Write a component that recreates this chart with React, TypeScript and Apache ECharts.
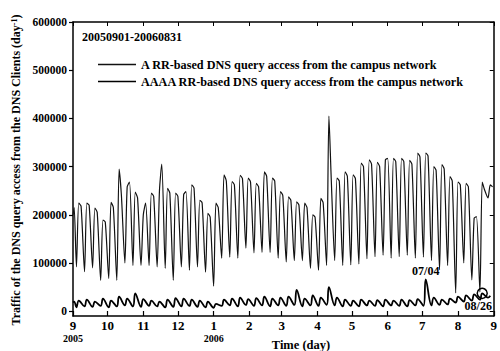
import React, { useEffect, useRef } from 'react';
import * as echarts from 'echarts';

const SERIF = '"Liberation Serif", "Times New Roman", serif';

// x axis: days since 2005-09-01
const monthTickDays = [0, 30, 61, 91, 122, 153, 181, 212, 242, 273, 303, 334, 365];
const monthTickLabels = ['9', '10', '11', '12', '1', '2', '3', '4', '5', '6', '7', '8', '9'];
const yearTickDays = [0, 122];
const yearTickLabels = ['2005', '2006'];
const yTickValues = [0, 100000, 200000, 300000, 400000, 500000, 600000];

const seriesNames = [
  'A RR-based DNS query access from the campus network',
  'AAAA RR-based DNS query access from the campus network',
];

// A RR series: first two days, then per week (k = 0..51): Sunday trough, Tuesday and Thursday levels
const aStart = [200000, 215000];
const aTrough = [
  92000, 82000, 90000, 64000, 68000, 64000, 100000, 95000, 95000, 95000,
  92000, 89000, 64000, 92000, 85000, 92000, 81000, 52000, 110000, 112000,
  110000, 131000, 121000, 122000, 122000, 110000, 102000, 105000, 105000, 89000,
  85000, 95000, 105000, 95000, 96000, 98000, 109000, 113000, 116000, 110000,
  113000, 116000, 110000, 112000, 105000, 86000, 95000, 38000, 100000, 65000,
  40000, 235000,
];
const aPeakTue = [
  224000, 224000, 214000, 189000, 226000, 295000, 258000, 247000, 200000, 245000,
  250000, 255000, 245000, 242000, 262000, 230000, 203000, 224000, 283000, 269000,
  282000, 276000, 265000, 289000, 276000, 248000, 237000, 227000, 224000, 200000,
  234000, 405000, 276000, 289000, 283000, 307000, 314000, 309000, 314000, 317000,
  317000, 313000, 328000, 328000, 300000, 304000, 279000, 268000, 265000, 193000,
  268000, 262000,
];
const aPeakThu = [
  218000, 220000, 205000, 185000, 215000, 240000, 268000, 235000, 224000, 238000,
  305000, 245000, 238000, 248000, 255000, 225000, 195000, 215000, 270000, 262000,
  275000, 268000, 258000, 280000, 270000, 240000, 230000, 220000, 215000, 195000,
  225000, 276000, 270000, 280000, 275000, 300000, 305000, 300000, 317000, 310000,
  310000, 305000, 320000, 322000, 292000, 295000, 270000, 262000, 258000, 196000,
  252000, 258000,
];

// AAAA RR series: first two days, then per week: Sunday trough, Tuesday peak
const aaaaStart = [18000, 20000];
const aaaaTrough = [
  8000, 10000, 9000, 11000, 8000, 10000, 12000, 10000, 9000, 11000,
  10000, 8000, 9000, 10000, 11000, 9000, 8000, 7000, 11000, 12000,
  10000, 13000, 11000, 12000, 10000, 12000, 11000, 13000, 10000, 12000,
  11000, 13000, 12000, 10000, 11000, 10000, 12000, 11000, 10000, 12000,
  11000, 10000, 12000, 11000, 12000, 13000, 14000, 18000, 20000, 22000,
  24000, 28000,
];
const aaaaPeak = [
  22000, 24000, 20000, 26000, 22000, 30000, 26000, 37000, 25000, 22000,
  20000, 24000, 27000, 26000, 24000, 22000, 20000, 15000, 24000, 26000,
  28000, 25000, 27000, 30000, 26000, 28000, 30000, 44000, 26000, 33000,
  28000, 50000, 28000, 24000, 22000, 24000, 22000, 23000, 24000, 22000,
  24000, 23000, 25000, 66000, 28000, 24000, 26000, 30000, 33000, 35000,
  37000, 32000,
];

const rangeLabel = '20050901-20060831';
const annotation1 = { day: 306, value: 66000, text: '07/04' };
const annotation2 = { day: 355, value: 37000, text: '08/26' };

function buildA(): number[][] {
  const pts: number[][] = [[0, aStart[0]], [1, aStart[1]]];
  for (let k = 0; k < aTrough.length; k++) {
    pts.push([3 + 7 * k, aTrough[k]]);
    pts.push([5 + 7 * k, aPeakTue[k]]);
    pts.push([7 + 7 * k, aPeakThu[k]]);
  }
  return pts;
}

function buildAAAA(): number[][] {
  const pts: number[][] = [[0, aaaaStart[0]], [1, aaaaStart[1]]];
  for (let k = 0; k < aaaaTrough.length; k++) {
    pts.push([3 + 7 * k, aaaaTrough[k]]);
    pts.push([5 + 7 * k, aaaaPeak[k]]);
  }
  return pts;
}

const boldText = { fontFamily: SERIF, fontWeight: 'bold' as const, color: '#000' };

export default function App() {
  const ref = useRef<HTMLDivElement>(null);
  useEffect(() => {
    const chart = echarts.init(ref.current!, null, { renderer: 'svg' });
    const axisLine = { show: true, onZero: false, lineStyle: { color: '#000', width: 1.5 } };
    const option: any = {
      animation: false,
      backgroundColor: '#fff',
      grid: { left: 73, right: 6, top: 22, bottom: 35, containLabel: false },
      legend: {
        orient: 'vertical',
        left: 98,
        top: 57,
        padding: 0,
        itemGap: 2,
        itemWidth: 38,
        itemHeight: 1.5,
        icon: 'rect',
        selectedMode: false,
        data: seriesNames,
        textStyle: { ...boldText, fontSize: 12.2, lineHeight: 15 },
      },
      xAxis: [
        {
          type: 'value', min: 0, max: 365, position: 'bottom',
          axisLine,
          axisTick: { show: true, inside: true, length: 5, customValues: monthTickDays, lineStyle: { color: '#000', width: 1.2 } },
          axisLabel: {
            customValues: monthTickDays, margin: 3, showMinLabel: true, showMaxLabel: true,
            formatter: (v: number) => {
              const i = monthTickDays.indexOf(v);
              const yi = yearTickDays.indexOf(v);
              const m = i >= 0 ? monthTickLabels[i] : '';
              return yi >= 0 ? `{m|${m}}\n{y|${yearTickLabels[yi]}}` : `{m|${m}}`;
            },
            rich: {
              m: { ...boldText, fontSize: 13, lineHeight: 13 },
              y: { ...boldText, fontSize: 10, lineHeight: 13 },
            },
          },
          splitLine: { show: false },
        },
        {
          type: 'value', min: 0, max: 365, position: 'top',
          axisLine,
          axisTick: { show: true, inside: true, length: 4, customValues: monthTickDays, lineStyle: { color: '#000' } },
          axisLabel: { show: false },
          splitLine: { show: false },
        },
      ],
      yAxis: [
        {
          type: 'value', min: -10000, max: 600000, position: 'left',
          axisLine,
          axisTick: { show: true, inside: false, length: 4, customValues: yTickValues, lineStyle: { color: '#000', width: 1.2 } },
          axisLabel: {
            customValues: yTickValues, margin: 6, ...boldText, fontSize: 11.5,
            formatter: (v: number) => String(v),
          },
          splitLine: { show: false },
        },
        {
          type: 'value', min: -10000, max: 600000, position: 'right',
          axisLine,
          axisTick: { show: true, inside: true, length: 4, customValues: yTickValues, lineStyle: { color: '#000' } },
          axisLabel: { show: false },
          splitLine: { show: false },
        },
      ],
      series: [
        {
          name: seriesNames[0], type: 'line', xAxisIndex: 0, yAxisIndex: 0,
          data: buildA(), symbol: 'none', smooth: 0.25,
          lineStyle: { color: '#111', width: 1.2 },
          itemStyle: { color: '#111' },
        },
        {
          name: seriesNames[1], type: 'line', xAxisIndex: 0, yAxisIndex: 0,
          data: buildAAAA(), symbol: 'none', smooth: 0.4,
          lineStyle: { color: '#000', width: 1.8 },
          itemStyle: { color: '#000' },
          markPoint: {
            silent: true,
            data: [
              {
                coord: [annotation1.day, annotation1.value], symbol: 'circle', symbolSize: 0,
                label: { show: true, formatter: annotation1.text, position: 'top', distance: 2, ...boldText, fontSize: 12 },
              },
              {
                coord: [annotation2.day, annotation2.value], symbol: 'circle', symbolSize: 10,
                itemStyle: { color: 'transparent', borderColor: '#000', borderWidth: 1.5 },
                label: { show: true, formatter: annotation2.text, position: 'inside', offset: [-4, 13], ...boldText, fontSize: 12 },
              },
            ],
          },
        },
      ],
      graphic: [
        {
          type: 'text', x: 16, y: 170, rotation: Math.PI / 2,
          style: {
            text: 'Traffic of the DNS query access from the DNS Clients (day{sup|-1})',
            x: 0, y: 0, align: 'center', verticalAlign: 'middle', textAlign: 'center', textVerticalAlign: 'middle',
            fontFamily: SERIF, fontWeight: 'bold', fontSize: 12, fill: '#000',
            rich: {
              sup: { fontFamily: SERIF, fontWeight: 'bold', fontSize: 8, verticalAlign: 'top', fill: '#000' },
            },
          },
        },
        {
          type: 'text', x: 82, y: 37,
          style: {
            text: rangeLabel, x: 0, y: 0, align: 'left', verticalAlign: 'middle', textAlign: 'left', textVerticalAlign: 'middle',
            fontFamily: SERIF, fontWeight: 'bold', fontSize: 12, fill: '#000',
          },
        },
        {
          type: 'text', x: 301, y: 345,
          style: {
            text: 'Time (day)', x: 0, y: 0, align: 'center', verticalAlign: 'middle', textAlign: 'center', textVerticalAlign: 'middle',
            fontFamily: SERIF, fontWeight: 'bold', fontSize: 12.5, fill: '#000',
          },
        },
      ],
    };
    chart.setOption(option);
    return () => chart.dispose();
  }, []);
  return <div ref={ref} style={{ position: 'absolute', left: 0, top: 0, width: 500, height: 351 }} />;
}
